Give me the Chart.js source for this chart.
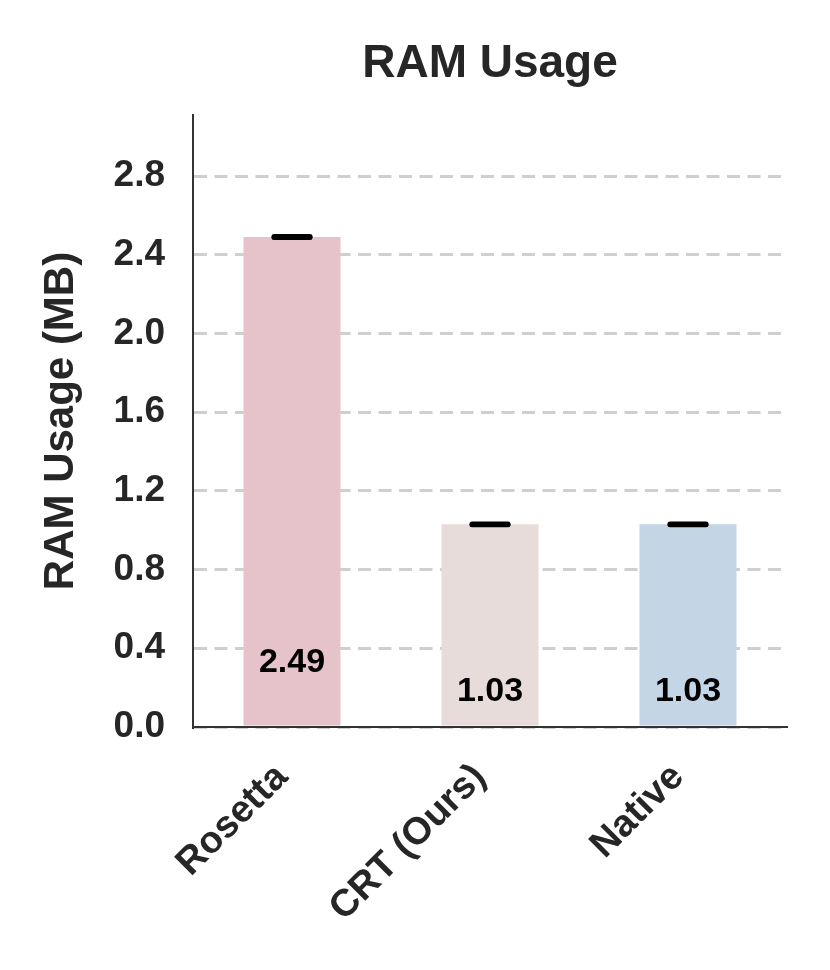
<!DOCTYPE html>
<html>
<head>
<meta charset="utf-8">
<script src="https://cdn.jsdelivr.net/npm/chart.js@4.4.1/dist/chart.umd.min.js"></script>
<style>
  html, body { margin: 0; padding: 0; background: #fff; }
  #wrap { width: 830px; height: 970px; }
</style>
</head>
<body>
<div id="wrap"><canvas id="ramChart" width="830" height="970"></canvas></div>
<script>
// data
const categories = ['Rosetta', 'CRT (Ours)', 'Native'];
const ramValues = [2.49, 1.03, 1.03];
const ramErrors = [0.003, 0.002, 0.002];
const barColors = ['#e6c2cb', '#e7dcd9', '#c4d5e6'];
const yTicks = [0.0, 0.4, 0.8, 1.2, 1.6, 2.0, 2.4, 2.8];
const yMax = 3.11;

const chartTitle = 'RAM Usage';
const yLabel = 'RAM Usage (MB)';
const FONT = '"Liberation Sans", Arial, Helvetica, sans-serif';
const INK = '#262626';

// titles, error caps and value labels
const extras = {
    id: 'extras',
    afterDatasetsDraw(chart) {
        const ctx = chart.ctx;
        const area = chart.chartArea;
        const x = chart.scales.x;
        const y = chart.scales.y;

        ctx.save();
        // error bars
        ctx.strokeStyle = '#000';
        ctx.lineCap = 'round';
        ramValues.forEach((v, i) => {
            const cx = x.getPixelForValue(i);
            const top = y.getPixelForValue(v + ramErrors[i]);
            const bot = y.getPixelForValue(v - ramErrors[i]);
            ctx.lineWidth = 2;
            ctx.beginPath();
            ctx.moveTo(cx, top);
            ctx.lineTo(cx, bot);
            ctx.stroke();
            ctx.lineWidth = 5;
            [top, bot].forEach(py => {
                ctx.beginPath();
                ctx.moveTo(cx - 18, py);
                ctx.lineTo(cx + 18, py);
                ctx.stroke();
            });
        });

        // value labels inside the bars
        ctx.fillStyle = '#000';
        ctx.font = 'bold 34px ' + FONT;
        ctx.textAlign = 'center';
        ctx.textBaseline = 'alphabetic';
        ramValues.forEach((v, i) => {
            const cx = x.getPixelForValue(i);
            ctx.fillText(v.toFixed(2), cx, y.getPixelForValue(v * 0.1 + 0.03));
        });

        // chart title
        ctx.fillStyle = INK;
        ctx.font = 'bold 46px ' + FONT;
        ctx.fillText(chartTitle, (area.left + area.right) / 2, 77);

        // y axis title
        ctx.font = 'bold 42px ' + FONT;
        ctx.translate(73, (area.top + area.bottom) / 2);
        ctx.rotate(-Math.PI / 2);
        ctx.fillText(yLabel, 0, 0);
        ctx.restore();
    }
};

const ctx = document.getElementById('ramChart').getContext('2d');
new Chart(ctx, {
    type: 'bar',
    data: {
        labels: categories,
        datasets: [{
            label: 'RAM Usage',
            data: ramValues,
            backgroundColor: barColors,
            borderWidth: 0,
            barPercentage: 0.49,
            categoryPercentage: 1.0,
        }],
    },
    options: {
        responsive: false,
        animation: false,
        layout: {
            padding: { top: 115, right: 43, left: 0, bottom: 0 },
        },
        plugins: {
            legend: { display: false },
            tooltip: { enabled: false },
            title: { display: false },
        },
        scales: {
            x: {
                grid: { display: false },
                border: { display: true, color: '#333', width: 2 },
                ticks: {
                    color: INK,
                    font: { family: FONT, size: 38, weight: 'bold' },
                    minRotation: 45,
                    maxRotation: 45,
                    padding: 20,
                    labelOffset: -10,
                },
                afterFit: (scale) => { scale.height = 243; },
            },
            y: {
                min: 0,
                max: yMax,
                grid: {
                    color: '#cfcfcf',
                    lineWidth: 3,
                    drawTicks: false,
                },
                border: { display: true, color: '#333', width: 2, dash: [13, 7.5] },
                ticks: {
                    color: INK,
                    font: { family: FONT, size: 37, weight: 'bold' },
                    padding: 28,
                    callback: (v) => Number(v).toFixed(1),
                },
                afterBuildTicks: (scale) => {
                    scale.ticks = yTicks.map(v => ({ value: v }));
                },
                afterFit: (scale) => { scale.width = 193; },
            },
        },
    },
    plugins: [extras],
});
</script>
</body>
</html>
